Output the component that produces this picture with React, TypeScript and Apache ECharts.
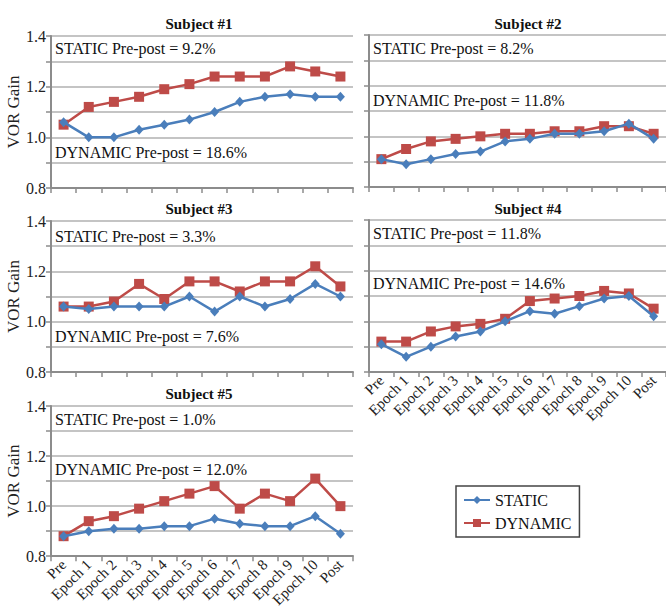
import React, { useEffect, useRef } from "react";
import * as echarts from "echarts";

const categories = ["Pre", "Epoch 1", "Epoch 2", "Epoch 3", "Epoch 4", "Epoch 5", "Epoch 6", "Epoch 7", "Epoch 8", "Epoch 9", "Epoch 10", "Post"];

const subjectTitles = ["Subject #1", "Subject #2", "Subject #3", "Subject #4", "Subject #5"];

const static1 = [1.06, 1.0, 1.0, 1.03, 1.05, 1.07, 1.1, 1.14, 1.16, 1.17, 1.16, 1.16];
const dynamic1 = [1.05, 1.12, 1.14, 1.16, 1.19, 1.21, 1.24, 1.24, 1.24, 1.28, 1.26, 1.24];

const static2 = [0.91, 0.89, 0.91, 0.93, 0.94, 0.98, 0.99, 1.01, 1.01, 1.02, 1.05, 0.99];
const dynamic2 = [0.91, 0.95, 0.98, 0.99, 1.0, 1.01, 1.01, 1.02, 1.02, 1.04, 1.04, 1.01];

const static3 = [1.06, 1.05, 1.06, 1.06, 1.06, 1.1, 1.04, 1.1, 1.06, 1.09, 1.15, 1.1];
const dynamic3 = [1.06, 1.06, 1.08, 1.15, 1.09, 1.16, 1.16, 1.12, 1.16, 1.16, 1.22, 1.14];

const static4 = [0.91, 0.86, 0.9, 0.94, 0.96, 1.0, 1.04, 1.03, 1.06, 1.09, 1.1, 1.02];
const dynamic4 = [0.92, 0.92, 0.96, 0.98, 0.99, 1.01, 1.08, 1.09, 1.1, 1.12, 1.11, 1.05];

const static5 = [0.88, 0.9, 0.91, 0.91, 0.92, 0.92, 0.95, 0.93, 0.92, 0.92, 0.96, 0.89];
const dynamic5 = [0.88, 0.94, 0.96, 0.99, 1.02, 1.05, 1.08, 0.99, 1.05, 1.02, 1.11, 1.0];

const staticSeries = [static1, static2, static3, static4, static5];
const dynamicSeries = [dynamic1, dynamic2, dynamic3, dynamic4, dynamic5];

const staticNotes = ["STATIC Pre-post = 9.2%", "STATIC Pre-post = 8.2%", "STATIC Pre-post = 3.3%", "STATIC Pre-post = 11.8%", "STATIC Pre-post = 1.0%"];
const dynamicNotes = ["DYNAMIC Pre-post = 18.6%", "DYNAMIC Pre-post = 11.8%", "DYNAMIC Pre-post = 7.6%", "DYNAMIC Pre-post = 14.6%", "DYNAMIC Pre-post = 12.0%"];

const FONT = "Liberation Serif";
const BLUE = "#4A7EBB";
const RED = "#BE4B48";

// panel rectangles of the five plot areas
const panels = [
  { left: 51, top: 36, width: 302, height: 152, showY: true, showX: false, titleX: 199, titleY: 24, staticY: 48, dynamicY: 152 },
  { left: 369, top: 35, width: 302, height: 152, showY: false, showX: false, titleX: 528, titleY: 24, staticY: 48, dynamicY: 100 },
  { left: 51, top: 221, width: 302, height: 151, showY: true, showX: false, titleX: 199, titleY: 209, staticY: 236, dynamicY: 336 },
  { left: 369, top: 220, width: 302, height: 152, showY: false, showX: true, titleX: 528, titleY: 209, staticY: 233, dynamicY: 283 },
  { left: 51, top: 406, width: 302, height: 152, showY: true, showX: true, titleX: 199, titleY: 394, staticY: 419, dynamicY: 469 },
];

export default function App() {
  const ref = useRef<HTMLDivElement>(null);

  useEffect(() => {
    document.body.style.margin = "0";
    if (!ref.current) return;
    const chart = echarts.init(ref.current, undefined, { renderer: "svg" });

    const grid = panels.map((p) => ({ left: p.left, top: p.top, width: p.width, height: p.height, containLabel: false }));

    const xAxis = panels.map((p, i) => ({
      type: "category",
      gridIndex: i,
      data: categories,
      boundaryGap: true,
      axisLine: { lineStyle: { color: "#8c8c8c", width: 2 } },
      axisTick: { show: true, length: 5, lineStyle: { color: "#8c8c8c", width: 1.5 } },
      axisLabel: {
        show: p.showX,
        rotate: 45,
        interval: 0,
        margin: 6,
        fontFamily: FONT,
        fontSize: 15,
        color: "#222",
      },
      splitLine: { show: false },
    }));

    const yAxis = panels.map((p, i) => ({
      type: "value",
      gridIndex: i,
      min: 0.8,
      max: 1.4,
      interval: 0.1,
      name: p.showY ? "VOR Gain" : "",
      nameLocation: "middle",
      nameRotate: 90,
      nameGap: 27,
      nameTextStyle: { fontFamily: FONT, fontSize: 17, color: "#222" },
      axisLine: { show: true, lineStyle: { color: "#8c8c8c", width: 2 } },
      axisTick: { show: true, length: 5, lineStyle: { color: "#8c8c8c", width: 1.5 } },
      axisLabel: {
        show: p.showY,
        margin: 5,
        fontFamily: FONT,
        fontSize: 16,
        color: "#222",
        formatter: (v: number) => (Math.round(v * 10) % 2 === 0 ? v.toFixed(1) : ""),
      },
      splitLine: { show: true, lineStyle: { color: "#b0b0b0", width: 1.5 } },
    }));

    const series: any[] = [];
    panels.forEach((_, i) => {
      series.push({
        name: "STATIC",
        type: "line",
        xAxisIndex: i,
        yAxisIndex: i,
        data: staticSeries[i],
        symbol: "diamond",
        symbolSize: [9, 10],
        lineStyle: { color: BLUE, width: 2.5 },
        itemStyle: { color: BLUE },
        z: 3,
      });
      series.push({
        name: "DYNAMIC",
        type: "line",
        xAxisIndex: i,
        yAxisIndex: i,
        data: dynamicSeries[i],
        symbol: "rect",
        symbolSize: 10,
        lineStyle: { color: RED, width: 2.5 },
        itemStyle: { color: RED },
        z: 2,
      });
    });

    const graphic: any[] = [];
    panels.forEach((p, i) => {
      graphic.push({
        type: "text",
        x: p.titleX,
        y: p.titleY,
        style: { text: subjectTitles[i], fontFamily: FONT, fontSize: 15, fontWeight: "bold", fill: "#111", align: "center", verticalAlign: "middle" },
      });
      const tx = p.left + 4;
      graphic.push({
        type: "text",
        x: tx,
        y: p.staticY,
        style: { text: staticNotes[i], fontFamily: FONT, fontSize: 16, fill: "#111", align: "left", verticalAlign: "middle" },
      });
      graphic.push({
        type: "text",
        x: tx,
        y: p.dynamicY,
        style: { text: dynamicNotes[i], fontFamily: FONT, fontSize: 16, fill: "#111", align: "left", verticalAlign: "middle" },
      });
    });

    chart.setOption({
      animation: false,
      backgroundColor: "#ffffff",
      grid,
      xAxis,
      yAxis,
      series,
      graphic,
      legend: {
        left: 456,
        top: 486,
        orient: "vertical",
        data: ["STATIC", "DYNAMIC"],
        itemWidth: 26,
        itemHeight: 10,
        itemGap: 7,
        padding: [6, 8, 6, 7],
        borderColor: "#444",
        borderWidth: 1.5,
        textStyle: { fontFamily: FONT, fontSize: 16, color: "#111" },
      },
    });

    return () => chart.dispose();
  }, []);

  return <div ref={ref} style={{ width: 666, height: 610 }} />;
}
